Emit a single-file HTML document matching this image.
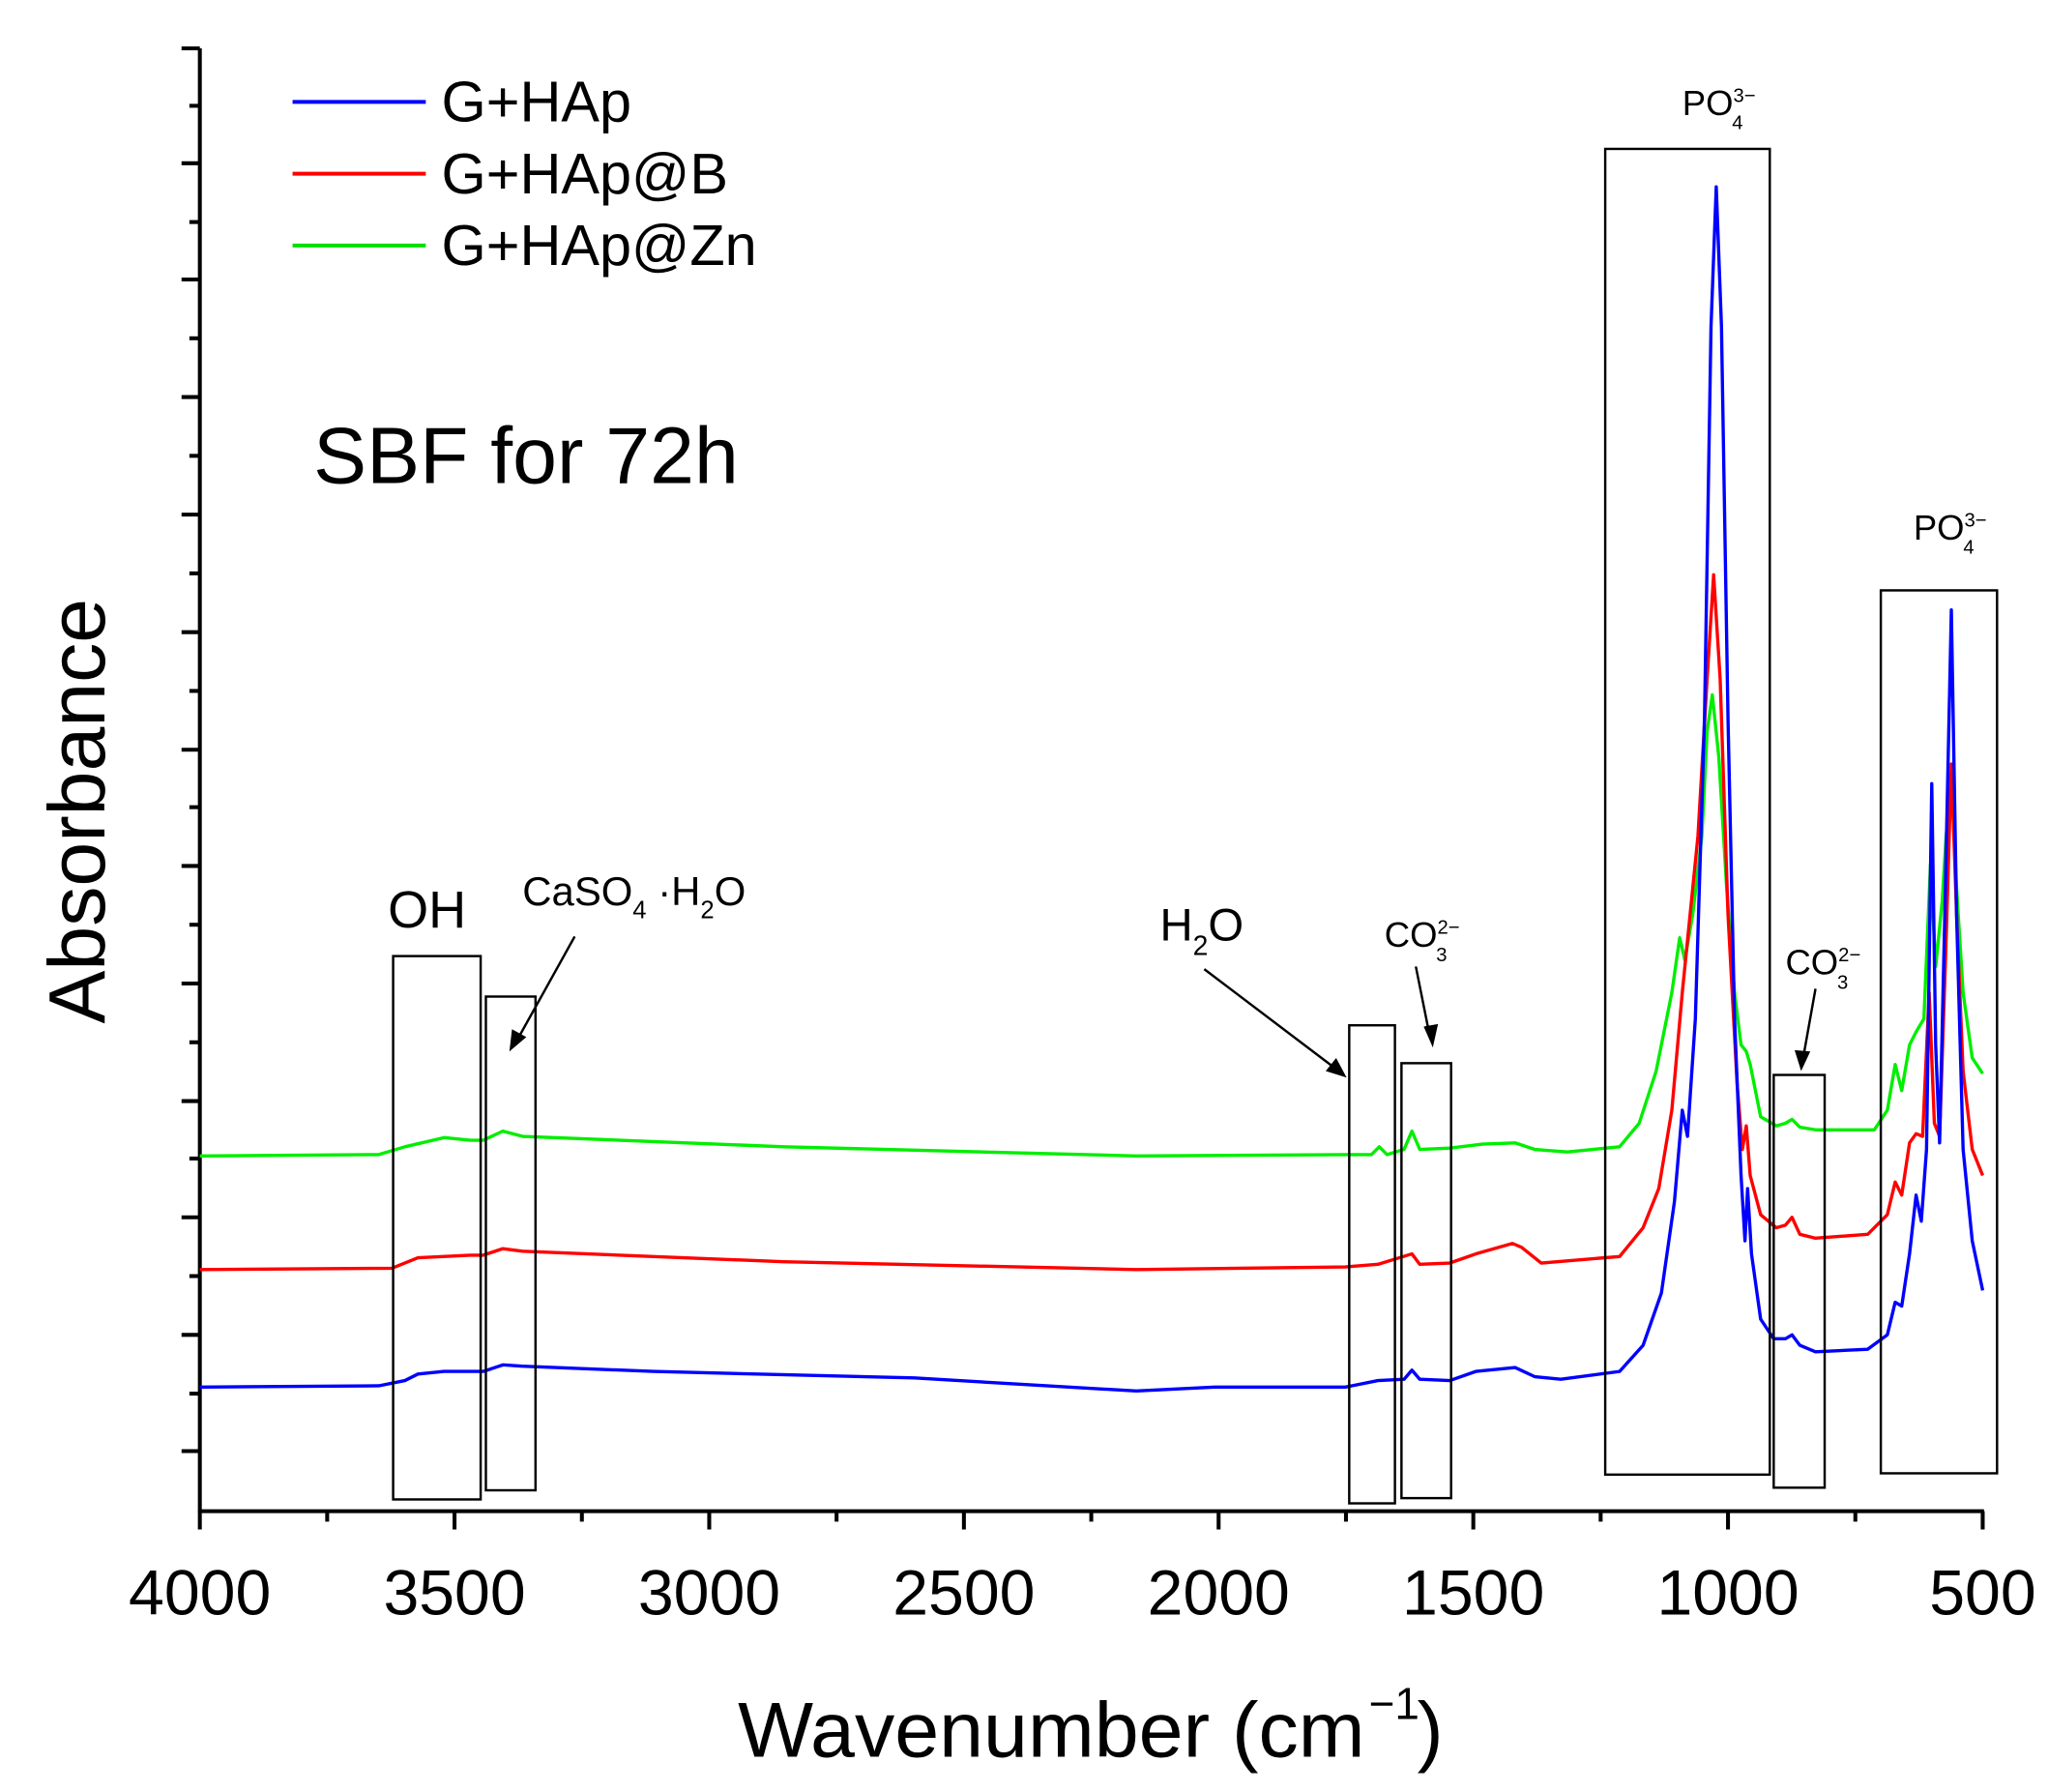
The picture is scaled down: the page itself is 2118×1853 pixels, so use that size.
<!DOCTYPE html>
<html><head><meta charset="utf-8"><style>html,body{margin:0;padding:0;background:#fff}svg{display:block}</style></head>
<body>
<svg width="2118" height="1853" viewBox="0 0 1568 1372" preserveAspectRatio="none" xmlns="http://www.w3.org/2000/svg" font-family="Liberation Sans, Arial, sans-serif">
<rect width="1568" height="1372" fill="#fff"/>
<g stroke="#000" stroke-width="3" fill="none">
<line x1="153" y1="37" x2="153" y2="1158"/>
<line x1="152" y1="1157" x2="1519" y2="1157"/>
</g>
<g stroke="#000" stroke-width="3">
<line x1="139" y1="37" x2="153" y2="37"/><line x1="145" y1="81" x2="153" y2="81"/>
<line x1="139" y1="125" x2="153" y2="125"/><line x1="145" y1="170" x2="153" y2="170"/>
<line x1="139" y1="214" x2="153" y2="214"/><line x1="145" y1="259" x2="153" y2="259"/>
<line x1="139" y1="304" x2="153" y2="304"/><line x1="145" y1="349" x2="153" y2="349"/>
<line x1="139" y1="394" x2="153" y2="394"/><line x1="145" y1="439" x2="153" y2="439"/>
<line x1="139" y1="484" x2="153" y2="484"/><line x1="145" y1="529" x2="153" y2="529"/>
<line x1="139" y1="574" x2="153" y2="574"/><line x1="145" y1="618" x2="153" y2="618"/>
<line x1="139" y1="663" x2="153" y2="663"/><line x1="145" y1="708" x2="153" y2="708"/>
<line x1="139" y1="753" x2="153" y2="753"/><line x1="145" y1="798" x2="153" y2="798"/>
<line x1="139" y1="843" x2="153" y2="843"/><line x1="145" y1="887" x2="153" y2="887"/>
<line x1="139" y1="932" x2="153" y2="932"/><line x1="145" y1="977" x2="153" y2="977"/>
<line x1="139" y1="1022" x2="153" y2="1022"/><line x1="145" y1="1067" x2="153" y2="1067"/>
<line x1="139" y1="1111" x2="153" y2="1111"/>
<line x1="153" y1="1157" x2="153" y2="1171"/><line x1="250.5" y1="1157" x2="250.5" y2="1165"/>
<line x1="348" y1="1157" x2="348" y2="1171"/><line x1="445.5" y1="1157" x2="445.5" y2="1165"/>
<line x1="543" y1="1157" x2="543" y2="1171"/><line x1="640.5" y1="1157" x2="640.5" y2="1165"/>
<line x1="738" y1="1157" x2="738" y2="1171"/><line x1="835.5" y1="1157" x2="835.5" y2="1165"/>
<line x1="933" y1="1157" x2="933" y2="1171"/><line x1="1030.5" y1="1157" x2="1030.5" y2="1165"/>
<line x1="1128" y1="1157" x2="1128" y2="1171"/><line x1="1225.5" y1="1157" x2="1225.5" y2="1165"/>
<line x1="1323" y1="1157" x2="1323" y2="1171"/><line x1="1420.5" y1="1157" x2="1420.5" y2="1165"/>
<line x1="1518" y1="1157" x2="1518" y2="1171"/>
</g>
<g font-size="49" text-anchor="middle" fill="#000">
<text x="153" y="1236">4000</text><text x="348" y="1236">3500</text><text x="543" y="1236">3000</text>
<text x="738" y="1236">2500</text><text x="933" y="1236">2000</text><text x="1128" y="1236">1500</text>
<text x="1323" y="1236">1000</text><text x="1518" y="1236">500</text>
</g>
<text x="565" y="1345" font-size="60" textLength="480" lengthAdjust="spacingAndGlyphs">Wavenumber (cm</text>
<text x="1048" y="1316" font-size="34">−1</text>
<text x="1085" y="1345" font-size="60">)</text>
<text transform="translate(80,621) rotate(-90)" font-size="61" text-anchor="middle">Absorbance</text>
<text x="240" y="370" font-size="61">SBF for 72h</text>
<g stroke-width="3"><line x1="224" y1="78" x2="326" y2="78" stroke="#0000ff"/><line x1="224" y1="133" x2="326" y2="133" stroke="#ff0000"/><line x1="224" y1="188" x2="326" y2="188" stroke="#00e000"/></g>
<g font-size="44"><text x="338" y="93">G+HAp</text><text x="338" y="148">G+HAp@B</text><text x="338" y="203">G+HAp@Zn</text></g>
<g fill="none" stroke-width="2.5" stroke-linejoin="round">
<polyline stroke="#00ee00" points="153,885 290,884 310,878 340,871 360,873 370,873 385,866 400,870 600,878 870,885 1030,884 1050,884 1056,878 1062,884 1075,880 1081,866 1087,880 1110,879 1135,876 1160,875 1175,880 1200,882 1240,878 1255,860 1268,820 1280,760 1286,718 1290,735 1296,700 1303,640 1307,560 1311,532 1316,580 1322,680 1328,760 1333,800 1337,805 1340,815 1348,855 1360,862 1367,860 1372,857 1378,863 1390,865 1435,865 1445,850 1451,815 1456,835 1462,800 1467,790 1473,780 1478,662 1482,740 1487,690 1490,640 1494,598 1498,680 1503,760 1510,810 1518,822"/>
<polyline stroke="#ff0000" points="153,972 300,971 320,963 360,961 370,961 385,956 400,958 600,966 870,972 1030,970 1055,968 1081,960 1087,968 1110,967 1130,960 1158,952 1165,955 1180,967 1240,962 1258,940 1270,910 1280,850 1288,760 1300,640 1307,520 1312,440 1317,520 1323,700 1330,830 1334,880 1337,862 1340,900 1348,930 1360,940 1367,938 1372,932 1378,945 1390,948 1430,945 1445,930 1451,905 1456,915 1462,875 1467,868 1472,870 1477,760 1481,860 1485,870 1490,720 1494,585 1498,700 1503,820 1510,880 1518,900"/>
<polyline stroke="#0000ff" points="153,1062 290,1061 310,1057 320,1052 340,1050 370,1050 385,1045 400,1046 500,1050 700,1055 870,1065 930,1062 1030,1062 1055,1057 1075,1056 1081,1049 1087,1056 1110,1057 1130,1050 1160,1047 1175,1054 1195,1056 1240,1050 1258,1030 1272,990 1282,920 1288,850 1292,870 1298,780 1305,550 1310,250 1314,143 1318,250 1323,550 1328,780 1333,900 1336,950 1338,910 1341,960 1348,1010 1358,1025 1367,1025 1372,1022 1378,1030 1390,1035 1430,1033 1445,1022 1451,997 1456,1000 1462,960 1467,915 1471,935 1475,880 1479,600 1482,800 1485,875 1489,700 1494,467 1498,700 1503,880 1510,950 1518,988"/>
</g>
<g fill="none" stroke="#000" stroke-width="1.8">
<rect x="301" y="732" width="67" height="416"/>
<rect x="372" y="763" width="38" height="378"/>
<rect x="1033" y="785" width="35" height="366"/>
<rect x="1073" y="814" width="38" height="333"/>
<rect x="1229" y="114" width="126" height="1015"/>
<rect x="1358" y="823" width="39" height="316"/>
<rect x="1440" y="452" width="89" height="676"/>
<line x1="440" y1="717" x2="395" y2="798"/>
<line x1="922" y1="742" x2="1025" y2="820"/>
<line x1="1084" y1="740" x2="1095" y2="795"/>
<line x1="1390" y1="757" x2="1380" y2="813"/>
</g>
<g fill="#000">
<polygon points="390,805 392,788 403,794"/>
<polygon points="1031,825 1015,820 1023,810"/>
<polygon points="1097,802 1090,786 1101,784"/>
<polygon points="1379,820 1374,804 1386,805"/>
</g>
<text x="297" y="710" font-size="40">OH</text>
<g font-size="31">
<text x="400" y="693">CaSO<tspan font-size="19" dy="10">4</tspan><tspan dy="-10"> ·H</tspan><tspan font-size="19" dy="10">2</tspan><tspan dy="-10">O</tspan></text>
<text x="888" y="720" font-size="35">H<tspan font-size="21" dy="11">2</tspan><tspan dy="-11">O</tspan></text>
<text x="1060" y="725" font-size="27">CO<tspan font-size="15" dy="-10">2−</tspan><tspan font-size="15" dx="-18" dy="21">3</tspan></text>
<text x="1367" y="746" font-size="27">CO<tspan font-size="15" dy="-10">2−</tspan><tspan font-size="15" dx="-18" dy="21">3</tspan></text>
<text x="1288" y="88" font-size="27">PO<tspan font-size="15" dy="-10">3−</tspan><tspan font-size="15" dx="-18" dy="21">4</tspan></text>
<text x="1465" y="413" font-size="27">PO<tspan font-size="15" dy="-10">3−</tspan><tspan font-size="15" dx="-18" dy="21">4</tspan></text>
</g>
</svg>
</body></html>
